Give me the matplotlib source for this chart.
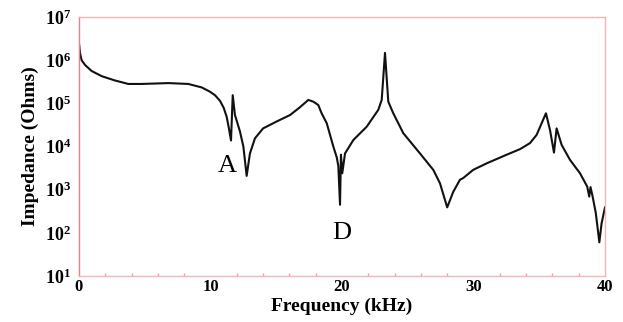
import matplotlib
matplotlib.use("Agg")
import matplotlib.pyplot as plt
from matplotlib.ticker import FixedLocator, MultipleLocator

freq_khz = [0.0, 0.08, 0.2, 0.46, 0.96, 1.73, 2.74, 3.75, 4.77, 6.79, 8.31, 9.33,
            9.96, 10.34, 10.72, 11.0, 11.23, 11.4, 11.56, 11.69, 11.86, 12.24, 12.5,
            12.75, 13.0, 13.38, 14.0, 15.03, 16.05, 16.8, 17.44, 17.82, 18.2, 18.45,
            18.84, 19.09, 19.34, 19.6, 19.72, 19.85, 19.92, 20.02, 20.23, 20.86,
            21.88, 22.76, 23.02, 23.27, 23.52, 23.9, 24.66, 25.93, 26.94, 27.45,
            28.0, 28.46, 28.97, 29.22, 29.98, 31.0, 32.52, 33.54, 34.3, 34.8, 35.51,
            35.82, 36.12, 36.32, 36.7, 37.34, 38.1, 38.65, 38.8, 38.9, 39.06, 39.3,
            39.57, 39.74, 40.0]
log_impedance = [6.39, 6.16, 6.00, 5.89, 5.75, 5.63, 5.53, 5.45, 5.45, 5.47, 5.45, 5.37,
                 5.27, 5.19, 5.06, 4.90, 4.69, 4.42, 4.14, 5.19, 4.73, 4.35, 4.00,
                 3.32, 3.84, 4.19, 4.42, 4.58, 4.73, 4.91, 5.08, 5.04, 4.96, 4.77,
                 4.54, 4.27, 4.00, 3.75, 3.55, 2.65, 3.81, 3.38, 3.84, 4.15,
                 4.46, 4.85, 5.08, 6.17, 5.04, 4.77, 4.31, 3.84, 3.46, 3.15,
                 2.59, 2.95, 3.23, 3.27, 3.46, 3.61, 3.81, 3.94, 4.08, 4.27, 4.77,
                 4.38, 3.86, 4.42, 4.04, 3.69, 3.38, 3.07, 2.84, 3.06, 2.84, 2.46,
                 1.78, 2.22, 2.59]
impedance = [10 ** v for v in log_impedance]

x_ticks = [0, 10, 20, 30, 40]
y_ticks = [1e1, 1e2, 1e3, 1e4, 1e5, 1e6, 1e7]
y_tick_labels = [r"$\mathbf{10^{%d}}$" % e for e in range(1, 8)]
annotations = [("A", 11.3, 10 ** 3.55), ("D", 20.0, 10 ** 2.0)]

plt.rcParams['mathtext.fontset'] = 'custom'
plt.rcParams['mathtext.rm'] = 'Liberation Serif'
plt.rcParams['mathtext.bf'] = 'Liberation Serif:bold'
plt.rcParams['font.family'] = ['Liberation Serif', 'DejaVu Serif']

fig = plt.figure(figsize=(6.23, 3.22), dpi=100)
ax = fig.add_axes([0.1268, 0.1429, 0.9711 - 0.1268, 0.947 - 0.1429])

ax.plot(freq_khz, impedance, color="#111111", linewidth=1.5,
        solid_joinstyle="round")
ax.set_yscale("log")
ax.set_xlim(0, 40)
ax.set_ylim(1e1, 1e7)

ax.set_xticks(x_ticks)
ax.set_xticklabels([str(t) for t in x_ticks], fontweight="bold", fontsize=12)
ax.xaxis.set_minor_locator(MultipleLocator(2))
ax.set_yticks(y_ticks)
ax.set_yticklabels(y_tick_labels, fontsize=13)
ax.yaxis.set_minor_locator(FixedLocator([]))

ax.tick_params(axis="both", which="both", direction="in", color="#f4a0a0",
               length=2, width=1, pad=2)
ax.tick_params(axis="y", which="major", length=0, pad=6)
ax.tick_params(axis="x", which="major", length=0, pad=2)

for side in ["top", "bottom", "right"]:
    ax.spines[side].set_color("#f7b4b4")
    ax.spines[side].set_linewidth(1.0)
ax.spines["left"].set_color("#f08080")
ax.spines["left"].set_linewidth(1.0)

ax.set_xlabel("Frequency (kHz)", fontweight="bold", fontsize=14, labelpad=2)
ax.set_ylabel("Impedance (Ohms)", fontweight="bold", fontsize=14, labelpad=4)

for text, fx, fy in annotations:
    ax.text(fx, fy, text, fontsize=19, ha="center", va="center", color="black")

fig.savefig("out.png", dpi=100)
